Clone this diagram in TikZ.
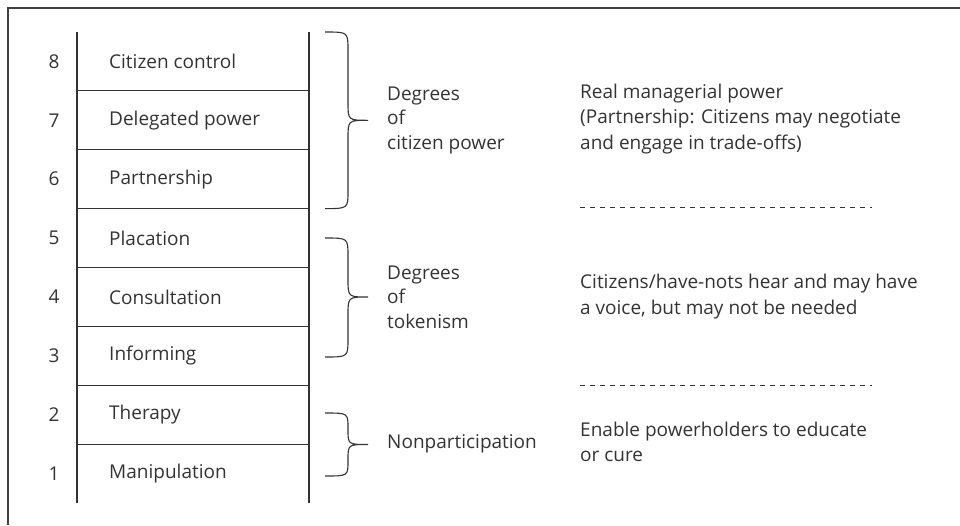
\documentclass[tikz,border=0pt]{standalone}
\usepackage{fontspec}
\setmainfont{Open Sans}
\definecolor{ink}{HTML}{333333}
\begin{document}
\begin{tikzpicture}[x=1pt,y=-1pt,
  txt/.style={font=\fontsize{19}{25.5}\selectfont, text=ink, inner sep=0pt},
  num/.style={txt, anchor=center},
  lbl/.style={txt, anchor=west},
  blk/.style={txt, anchor=west, align=left},
  grp/.style={txt, anchor=west, align=left, font=\fontsize{19}{24.5}\selectfont},
  rail/.style={draw=ink, line width=1.1pt},
  brc/.style={draw=ink, line width=1.1pt},
  sep/.style={draw=ink, line width=0.9pt, dash pattern=on 5pt off 5pt}]
\useasboundingbox (0,0) rectangle (960,525);
% frame
\draw[line width=2pt, draw=black!75] (8,525) -- (8,8) -- (960,8);
% ladder rails
\coordinate (lt) at (77,32);
\coordinate (lb) at (77,503);
\coordinate (rt) at (309,32);
\coordinate (rb) at (309,503);
\draw[rail] (lt) -- (lb);
\draw[rail] (rt) -- (rb);
% rungs
\foreach \k in {1,...,7}{
  \coordinate (a\k) at (77,32+\k*58.875);
  \coordinate (b\k) at (309,32+\k*58.875);
  \draw[rail] (a\k) -- (b\k);
}
% rows
\foreach \n/\t [count=\k from 0] in {8/Citizen control,7/Delegated power,6/Partnership,5/Placation,4/Consultation,3/Informing,2/Therapy,1/Manipulation}{
  \node[num] (n\n) at (54,32+\k*58.875+29.4) {\n};
  \node[lbl] (r\n) at (109,32+\k*58.875+29.4) {\t};
}
% braces
\draw[brc] (325,32) .. controls (348,32) and (348,32) .. (348,50)
  -- (348,102) .. controls (348,120.3) and (348,120.3) .. (368,120.3)
  .. controls (348,120.3) and (348,120.3) .. (348,138.6)
  -- (348,190.6) .. controls (348,208.6) and (348,208.6) .. (325,208.6);
\draw[brc] (325,238) .. controls (348,238) and (348,238) .. (348,256)
  -- (348,279) .. controls (348,297) and (348,297) .. (368,297)
  .. controls (348,297) and (348,297) .. (348,315)
  -- (348,339) .. controls (348,357) and (348,357) .. (325,357);
\draw[brc] (325,413) .. controls (348,413) and (348,413) .. (348,428)
  -- (348,429.5) .. controls (348,444.5) and (348,444.5) .. (368,444.5)
  .. controls (348,444.5) and (348,444.5) .. (348,459.5)
  -- (348,461) .. controls (348,476) and (348,476) .. (325,476);
% group labels
\node[grp] (g1) at (387,120) {Degrees\\of\\citizen power};
\node[grp] (g2) at (387,297) {Degrees\\of\\tokenism};
\node[lbl] (g3) at (387,444) {Nonparticipation};
% descriptions
\node[blk] (d1) at (580,119) {Real managerial power\\(Partnership: Citizens may negotiate\\and engage in trade-offs)};
\node[blk] (d2) at (580,296.5) {Citizens/have-nots hear and may have\\a voice, but may not be needed};
\node[blk] (d3) at (580,442) {Enable powerholders to educate\\or cure};
% separators
\coordinate (s1a) at (580,207);
\coordinate (s1b) at (872,207);
\coordinate (s2a) at (580,385);
\coordinate (s2b) at (872,385);
\draw[sep] (s1a) -- (s1b);
\draw[sep] (s2a) -- (s2b);
\end{tikzpicture}
\end{document}
